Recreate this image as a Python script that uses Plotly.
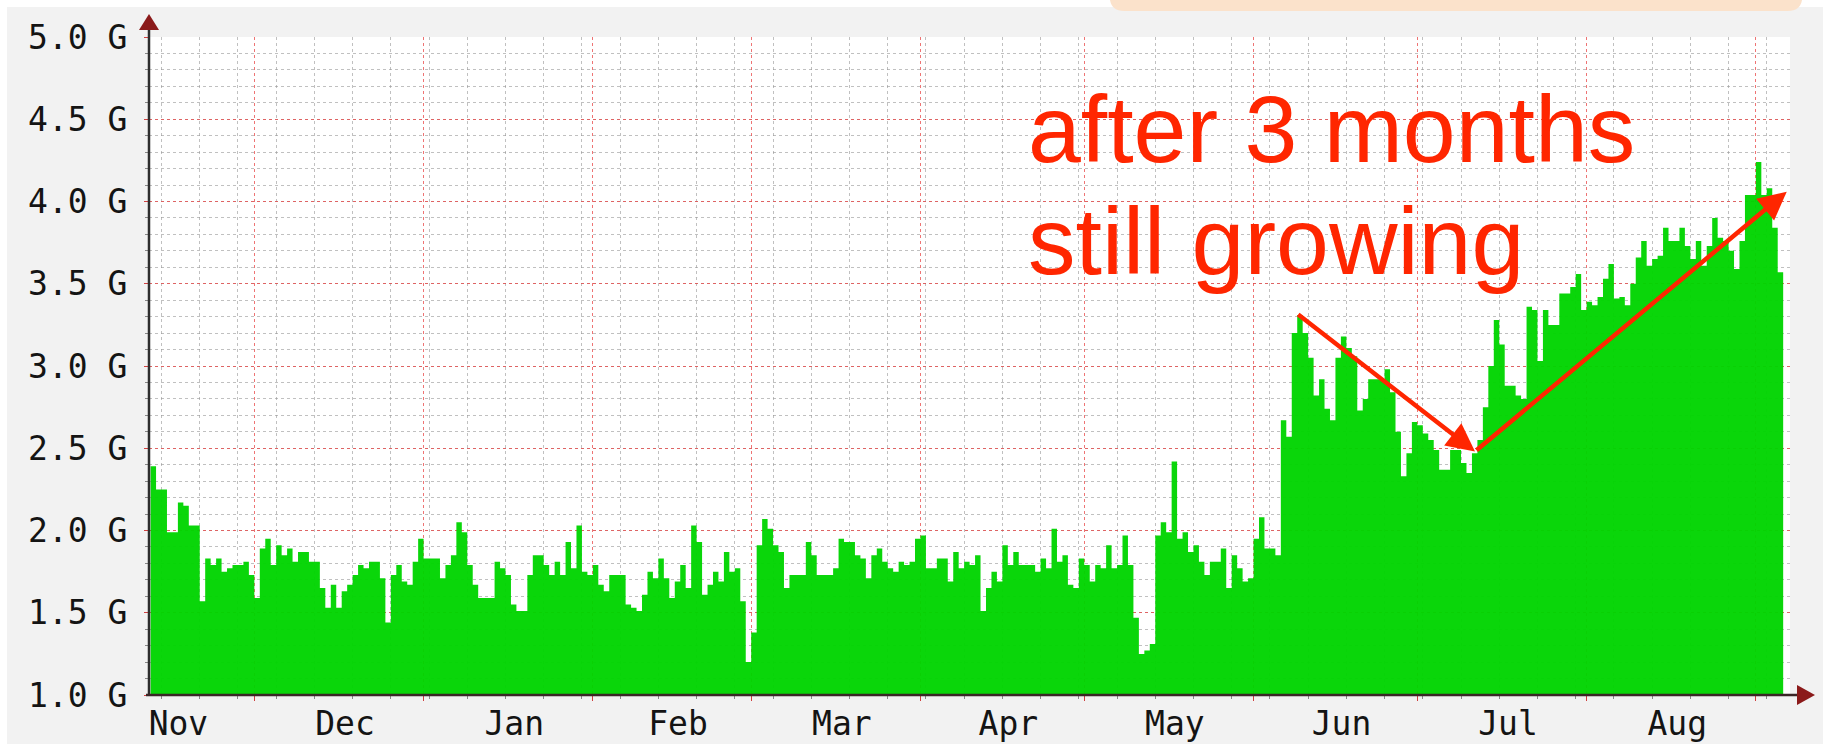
import pandas as pd
import plotly.graph_objects as go

# ---------------- data ----------------
start_date = "2011-11-12"
usage_g = [
    2.39, 2.25, 2.25, 1.99, 1.99, 2.17, 2.15, 2.03, 2.03, 1.57,
    1.83, 1.79, 1.83, 1.75, 1.77, 1.79, 1.79, 1.81, 1.73, 1.59,
    1.89, 1.95, 1.79, 1.91, 1.85, 1.89, 1.81, 1.87, 1.87, 1.81,
    1.81, 1.65, 1.53, 1.67, 1.53, 1.63, 1.67, 1.73, 1.79, 1.77,
    1.81, 1.81, 1.71, 1.44, 1.73, 1.79, 1.69, 1.67, 1.81, 1.95,
    1.83, 1.83, 1.83, 1.71, 1.79, 1.85, 2.05, 1.99, 1.79, 1.67,
    1.59, 1.59, 1.59, 1.81, 1.77, 1.73, 1.55, 1.51, 1.51, 1.73,
    1.85, 1.85, 1.79, 1.73, 1.81, 1.73, 1.93, 1.77, 2.03, 1.75,
    1.73, 1.79, 1.67, 1.63, 1.73, 1.73, 1.73, 1.55, 1.53, 1.51,
    1.61, 1.75, 1.71, 1.83, 1.71, 1.59, 1.69, 1.79, 1.65, 2.03,
    1.93, 1.61, 1.67, 1.75, 1.69, 1.87, 1.75, 1.77, 1.57, 1.20,
    1.38, 1.91, 2.07, 2.01, 1.91, 1.87, 1.65, 1.73, 1.73, 1.73,
    1.93, 1.85, 1.73, 1.73, 1.73, 1.77, 1.95, 1.93, 1.93, 1.85,
    1.83, 1.71, 1.85, 1.89, 1.81, 1.77, 1.75, 1.81, 1.79, 1.81,
    1.95, 1.97, 1.77, 1.77, 1.83, 1.83, 1.69, 1.87, 1.77, 1.81,
    1.79, 1.85, 1.51, 1.65, 1.75, 1.69, 1.91, 1.79, 1.87, 1.79,
    1.79, 1.79, 1.75, 1.83, 1.77, 2.01, 1.81, 1.85, 1.67, 1.65,
    1.83, 1.79, 1.69, 1.79, 1.77, 1.91, 1.77, 1.79, 1.97, 1.79,
    1.47, 1.25, 1.27, 1.31, 1.97, 2.05, 1.99, 2.42, 1.95, 1.99,
    1.87, 1.91, 1.81, 1.73, 1.81, 1.81, 1.89, 1.65, 1.85, 1.77,
    1.69, 1.71, 1.95, 2.08, 1.89, 1.89, 1.85, 2.67, 2.57, 3.20,
    3.31, 3.20, 3.05, 2.82, 2.92, 2.74, 2.67, 3.05, 3.18, 3.11,
    3.06, 2.73, 2.80, 2.92, 2.92, 2.92, 2.98, 2.84, 2.60, 2.33,
    2.47, 2.66, 2.64, 2.59, 2.55, 2.49, 2.37, 2.37, 2.49, 2.49,
    2.41, 2.35, 2.47, 2.55, 2.75, 3.00, 3.28, 3.13, 2.88, 2.88,
    2.82, 2.80, 3.36, 3.34, 3.03, 3.34, 3.25, 3.25, 3.44, 3.44,
    3.48, 3.56, 3.34, 3.39, 3.37, 3.42, 3.53, 3.62, 3.41, 3.42,
    3.37, 3.50, 3.66, 3.76, 3.61, 3.65, 3.67, 3.84, 3.76, 3.76,
    3.84, 3.73, 3.65, 3.76, 3.61, 3.73, 3.90, 3.78, 3.76, 3.70,
    3.59, 3.76, 4.04, 4.04, 4.24, 4.04, 4.08, 3.84, 3.57,
]
y_tick_values = [1.0, 1.5, 2.0, 2.5, 3.0, 3.5, 4.0, 4.5, 5.0]
y_tick_labels = ["1.0 G", "1.5 G", "2.0 G", "2.5 G", "3.0 G", "3.5 G", "4.0 G", "4.5 G", "5.0 G"]
x_range = ["2011-11-11 17:00", "2012-09-07 06:00"]
note_lines = ["after 3 months", "still growing"]
arrow_tail = ["2012-06-08 21:36", 3.32]
arrow_vertex = ["2012-07-11 13:26", 2.48]
arrow_tip = ["2012-09-06 15:36", 4.06]

# ---------------- geometry ----------------
W, H = 1823, 744
L, R, T, B = 149, 33, 37, 49
PW, PH = W - L - R, H - T - B


def px(x):
    return (x - L) / PW


def py(y):
    return (H - B - y) / PH


days = pd.date_range(start_date, periods=len(usage_g) + 1, freq="D")
yvals = usage_g + [usage_g[-1]]

GREEN = "rgba(0,212,0,0.96)"
RED = "#FF2600"

fig = go.Figure()
fig.add_trace(go.Scatter(
    x=days, y=yvals, mode="lines", line=dict(width=0, shape="hv", color=GREEN),
    fill="tozeroy", fillcolor=GREEN, hoverinfo="skip", showlegend=False,
))

shapes = [
    # white border strips
    dict(type="rect", xref="paper", yref="paper", x0=px(0), x1=px(W), y0=py(0), y1=py(7),
         fillcolor="white", line=dict(width=0), layer="below"),
    dict(type="rect", xref="paper", yref="paper", x0=px(0), x1=px(7), y0=py(0), y1=py(H),
         fillcolor="white", line=dict(width=0), layer="below"),
    # peach band at top
    dict(type="path", xref="paper", yref="paper",
         path=(f"M {px(1110)},{py(0)} L {px(1802)},{py(0)} "
               f"Q {px(1800)},{py(11)} {px(1788)},{py(11)} "
               f"L {px(1124)},{py(11)} Q {px(1112)},{py(11)} {px(1110)},{py(0)} Z"),
         fillcolor="#FBE2CB", line=dict(width=0), layer="below"),
    # axes
    dict(type="line", xref="paper", yref="paper", x0=px(149), x1=px(149), y0=py(696), y1=py(24),
         line=dict(color="#2e2e2e", width=2.5), layer="above"),
    dict(type="line", xref="paper", yref="paper", x0=px(146), x1=px(1802), y0=py(695), y1=py(695),
         line=dict(color="#3a2626", width=2.5), layer="above"),
    dict(type="path", xref="paper", yref="paper",
         path=f"M {px(139)},{py(30)} L {px(159)},{py(30)} L {px(149)},{py(14)} Z",
         fillcolor="#8B1A1A", line=dict(width=0), layer="above"),
    dict(type="path", xref="paper", yref="paper",
         path=f"M {px(1797)},{py(685)} L {px(1797)},{py(705)} L {px(1815)},{py(695)} Z",
         fillcolor="#8B1A1A", line=dict(width=0), layer="above"),
]

annotations = [
    dict(xref="paper", yref="paper", x=px(1026), y=py(74), xanchor="left", yanchor="top",
         text=note_lines[0], showarrow=False,
         font=dict(family="Liberation Sans, Arial", size=95, color=RED)),
    dict(xref="paper", yref="paper", x=px(1026), y=py(186), xanchor="left", yanchor="top",
         text=note_lines[1], showarrow=False,
         font=dict(family="Liberation Sans, Arial", size=95, color=RED)),
    dict(x=arrow_vertex[0], y=arrow_vertex[1], ax=arrow_tail[0], ay=arrow_tail[1],
         xref="x", yref="y", axref="x", ayref="y", text="", showarrow=True,
         arrowhead=2, arrowsize=1.25, arrowwidth=4.5, arrowcolor=RED, standoff=0),
    dict(x=arrow_tip[0], y=arrow_tip[1], ax=arrow_vertex[0], ay=arrow_vertex[1],
         xref="x", yref="y", axref="x", ayref="y", text="", showarrow=True,
         arrowhead=2, arrowsize=1.25, arrowwidth=4.5, arrowcolor=RED, standoff=0),
]

tickfont = dict(family="DejaVu Sans Mono", size=33, color="#141414")

fig.update_layout(
    width=W, height=H,
    margin=dict(l=L, r=R, t=T, b=B, pad=0),
    paper_bgcolor="#F2F2F2", plot_bgcolor="white",
    showlegend=False,
    shapes=shapes, annotations=annotations,
    xaxis=dict(
        type="date", range=x_range, autorange=False,
        dtick="M1", tick0="2011-11-01", tickformat="%b", ticklabelmode="period",
        ticklabelshift=6,
        showgrid=True, gridcolor="rgba(232,70,70,0.75)", griddash="dot", gridwidth=1,
        ticks="outside", ticklen=5, tickcolor="#D04040", tickwidth=1,
        tickfont=tickfont, ticklabelstandoff=-6,
        minor=dict(dtick=7 * 86400000, tick0="2011-11-14", showgrid=True,
                   gridcolor="rgba(150,150,150,0.6)", griddash="dot", gridwidth=1,
                   ticks="outside", ticklen=3, tickcolor="#888"),
        zeroline=False, showline=False, automargin=False, fixedrange=True,
    ),
    yaxis=dict(
        range=[1.0, 5.0], autorange=False,
        tickvals=y_tick_values, ticktext=y_tick_labels,
        showgrid=True, gridcolor="rgba(232,70,70,0.75)", griddash="dot", gridwidth=1,
        ticks="outside", ticklen=4, tickcolor="#D04040",
        tickfont=tickfont, ticklabelstandoff=10,
        minor=dict(dtick=0.1, tick0=1.0, showgrid=True,
                   gridcolor="rgba(150,150,150,0.6)", griddash="dot", gridwidth=1,
                   ticks="outside", ticklen=3, tickcolor="#888"),
        zeroline=False, showline=False, automargin=False, fixedrange=True,
    ),
)

fig.write_html(
    "out.html",
    config={"displayModeBar": False, "staticPlot": True},
    post_script="document.body.style.margin='0px';document.body.style.overflow='hidden';",
)
